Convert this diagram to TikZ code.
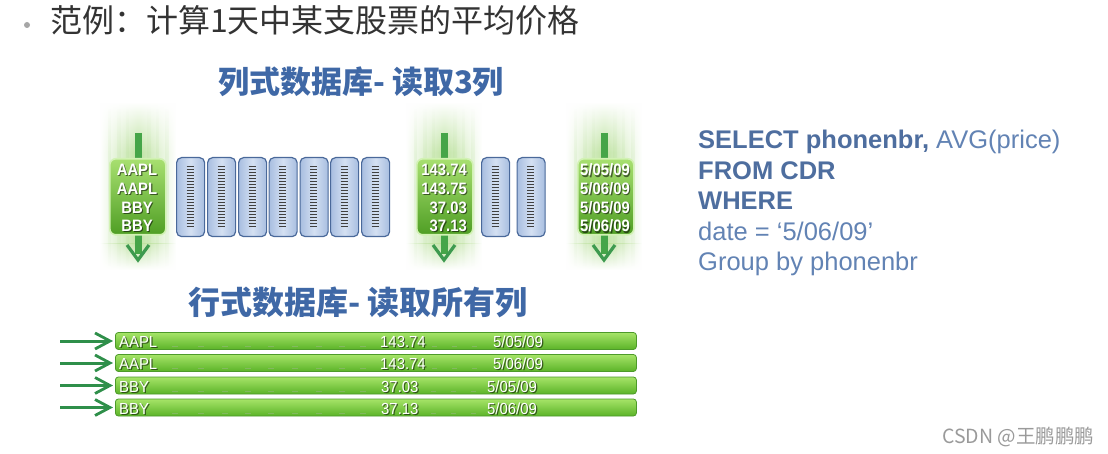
\documentclass[tikz,border=0pt]{standalone}
\usepackage{fontspec}
\setmainfont{Liberation Sans}
\newfontfamily\cjk{Noto Sans CJK SC}
\newfontfamily\rowfont[FakeStretch=0.93]{Liberation Sans}
\newfontfamily\colfont[FakeStretch=0.9]{Liberation Sans Bold}
\usetikzlibrary{fadings,calc}
\definecolor{titlegray}{HTML}{333333}
\definecolor{subblue}{HTML}{3F68A6}
\definecolor{sqlblue}{HTML}{4E6E9F}
\definecolor{sqlblue2}{HTML}{6283B4}
\definecolor{glowgreen}{HTML}{BFE3A2}
\definecolor{streakgreen}{HTML}{9ED479}
\definecolor{arrowgreen}{HTML}{45A548}
\definecolor{chevgreen}{HTML}{3D9A4F}
\definecolor{boxtop}{HTML}{A8E070}
\definecolor{boxbot}{HTML}{4F9E24}
\definecolor{boxedge}{HTML}{D2F2B4}
\definecolor{bluetop}{HTML}{D4E0F2}
\definecolor{bluebot}{HTML}{A8BEE0}
\definecolor{blueedge}{HTML}{4A699A}
\definecolor{bartop}{HTML}{A6E468}
\definecolor{barbot}{HTML}{5BB328}
\definecolor{baredge}{HTML}{4D9A2A}
\definecolor{rowarrow}{HTML}{2F8F4A}
\definecolor{wmgray}{HTML}{9A9A9A}
\tikzfading[name=fadelr, left color=transparent!100, right color=transparent!100, middle color=transparent!0]
\tikzfading[name=fadetb, top color=transparent!100, bottom color=transparent!100, middle color=transparent!0]
\tikzset{
  gbox/.style={draw=boxedge, line width=1.6pt, rounded corners=6pt, top color=boxtop, bottom color=boxbot, minimum width=56pt, minimum height=76pt, inner sep=0pt},
  bbox/.style={draw=blueedge, line width=1.2pt, rounded corners=5pt, left color=bluebot, right color=bluebot, middle color=bluetop, minimum width=28pt, minimum height=79pt, inner sep=0pt},
  rowbar/.style={draw=baredge, line width=0.8pt, rounded corners=3pt, top color=bartop, bottom color=barbot, minimum width=521pt, minimum height=17pt, inner sep=0pt},
  colshaft/.style={draw=arrowgreen, line width=7pt},
  chev/.style={draw=chevgreen, line width=3.2pt, line join=miter},
  rowshaft/.style={draw=rowarrow, line width=3pt},
  txtw/.style={text=white, inner sep=0pt},
  txtsh/.style={text=black, opacity=0.55, inner sep=0pt},
  coltxt/.style={font=\colfont\fontsize{16.5}{19}\selectfont},
  rowtxt/.style={font=\rowfont\fontsize{16}{18}\selectfont},
  sql/.style={anchor=base west, inner sep=0pt, font=\fontsize{25.5}{30}\selectfont},
}
\newcommand{\wtext}[5]{% name, position, anchor, style, text
  \node[txtsh,#4,anchor=#3] (#1-s) at ($#2+(1.2,1.2)$) {#5};
  \node[txtw,#4,anchor=#3] (#1) at #2 {#5};}
\newcommand{\glow}[2]{% name, center x
  \shade[top color=white, bottom color=glowgreen, path fading=fadelr] (#2-38,102) rectangle (#2+38,152);
  \fill[glowgreen, path fading=fadelr] (#2-38,152) rectangle (#2+38,244);
  \shade[top color=glowgreen, bottom color=white, path fading=fadelr] (#2-38,244) rectangle (#2+38,270);
  \foreach \dx/\w in {-30/3,-21/4,-12/3,9/4,18/3,27/4}{
    \fill[streakgreen, opacity=0.2, path fading=fadetb] (#2+\dx,108) rectangle (#2+\dx+\w,266);}
  \coordinate (#1top) at (#2,133);
  \coordinate (#1bot) at (#2,260);
  \draw[colshaft] (#1top) -- ($(#1bot)+(0,-6)$);
  \draw[chev] ($(#1bot)+(-11,-15)$) -- (#1bot) -- ($(#1bot)+(11,-15)$);}
\newcommand{\bluebox}[2]{% name, left x
  \node[bbox, anchor=north west] (#1) at (#2,157) {};
  \foreach \yy in {166,169,...,228}{
    \draw[black!75, line width=0.9pt] (#2+10.5,\yy) -- (#2+17.5,\yy);}}
\begin{document}
\begin{tikzpicture}[x=1pt,y=-1pt]
\useasboundingbox[fill=white] (0,0) rectangle (1108,454);

% title
\fill[black!35] (27,25) circle (3);
\node[anchor=base west, inner sep=0pt, text=titlegray, font=\cjk\fontsize{32}{38}\selectfont] (title) at (50,33) {范例：计算1天中某支股票的平均价格};

% column store header
\node[anchor=base, inner sep=0pt, text=subblue, font=\cjk\bfseries\fontsize{31}{36}\selectfont] (colhead) at (361,94) {列式数据库- 读取3列};

% glows and arrows
\glow{a1}{138}
\glow{a2}{444}
\glow{a3}{604}

% green column boxes
\node[gbox, anchor=north west] (col1) at (109,158) {};
\node[gbox, anchor=north west] (col2) at (416,158) {};
\node[gbox, anchor=north west] (col3) at (577,158) {};

\wtext{c1a}{(137,170)}{center}{coltxt}{AAPL}
\wtext{c1b}{(137,188.5)}{center}{coltxt}{AAPL}
\wtext{c1c}{(137,207.5)}{center}{coltxt}{BBY}
\wtext{c1d}{(137,226)}{center}{coltxt}{BBY}

\wtext{c2a}{(467,170)}{east}{coltxt}{143.74}
\wtext{c2b}{(467,188.5)}{east}{coltxt}{143.75}
\wtext{c2c}{(467,207.5)}{east}{coltxt}{37.03}
\wtext{c2d}{(467,226)}{east}{coltxt}{37.13}

\wtext{c3a}{(605,170)}{center}{coltxt}{5/05/09}
\wtext{c3b}{(605,188.5)}{center}{coltxt}{5/06/09}
\wtext{c3c}{(605,207.5)}{center}{coltxt}{5/05/09}
\wtext{c3d}{(605,226)}{center}{coltxt}{5/06/09}

% blue boxes
\bluebox{b1}{176}
\bluebox{b2}{207}
\bluebox{b3}{238}
\bluebox{b4}{268.5}
\bluebox{b5}{299.5}
\bluebox{b6}{330}
\bluebox{b7}{361}
\bluebox{b8}{481}
\bluebox{b9}{516.5}

% SQL
\node[sql, text=sqlblue] (sql1) at (698,149) {\textbf{SELECT phonenbr,} \textcolor{sqlblue2}{AVG(price)}};
\node[sql, text=sqlblue, font=\bfseries\fontsize{25.5}{30}\selectfont] (sql2) at (698,179.5) {FROM CDR};
\node[sql, text=sqlblue, font=\bfseries\fontsize{25.5}{30}\selectfont] (sql3) at (698,210) {WHERE};
\node[sql, text=sqlblue2] (sql4) at (698,240.5) {date = ‘5/06/09’};
\node[sql, text=sqlblue2] (sql5) at (698,271) {Group by phonenbr};

% row store header
\node[anchor=base, inner sep=0pt, text=subblue, font=\cjk\bfseries\fontsize{32}{38}\selectfont] (rowhead) at (358,315) {行式数据库- 读取所有列};

% rows
\foreach \i/\yc/\sym/\num/\nx/\dt/\dx in {1/341/AAPL/143.74/380/5\slash 05\slash 09/493,2/363/AAPL/143.74/380/5\slash 06\slash 09/493,3/385.5/BBY/37.03/381/5\slash 05\slash 09/487,4/407.5/BBY/37.13/381/5\slash 06\slash 09/487}{
  \node[rowbar, anchor=west] (r\i) at (115,\yc) {};
  \coordinate (ra\i) at (60,\yc);
  \draw[rowshaft] (ra\i) -- ($(r\i.west)+(-7,0)$);
  \draw[rowshaft, line width=2.8pt] ($(r\i.west)+(-20,-8)$) -- ($(r\i.west)+(-5,0)$) -- ($(r\i.west)+(-20,8)$);
  \foreach \mx in {172,198,222,245,268,292,316,339,360}{
    \draw[black!30, opacity=0.35, line width=1pt] (\mx,\yc+5.5) -- (\mx+6,\yc+5.5);}
  \foreach \mx in {432,452,472}{
    \draw[black!30, opacity=0.35, line width=1pt] (\mx-\nx+380,\yc+5.5) -- (\mx-\nx+385,\yc+5.5);}
  \wtext{rs\i}{(119,\yc+1)}{west}{rowtxt}{\sym}
  \wtext{rn\i}{(\nx,\yc+1)}{west}{rowtxt}{\num}
  \wtext{rd\i}{(\dx,\yc+1)}{west}{rowtxt}{\dt}
}

% watermark
\node[anchor=base west, inner sep=0pt, text=wmgray, font=\cjk\fontsize{19.5}{22}\selectfont] (wm) at (942,443) {CSDN @王鹏鹏鹏};
\end{tikzpicture}
\end{document}
